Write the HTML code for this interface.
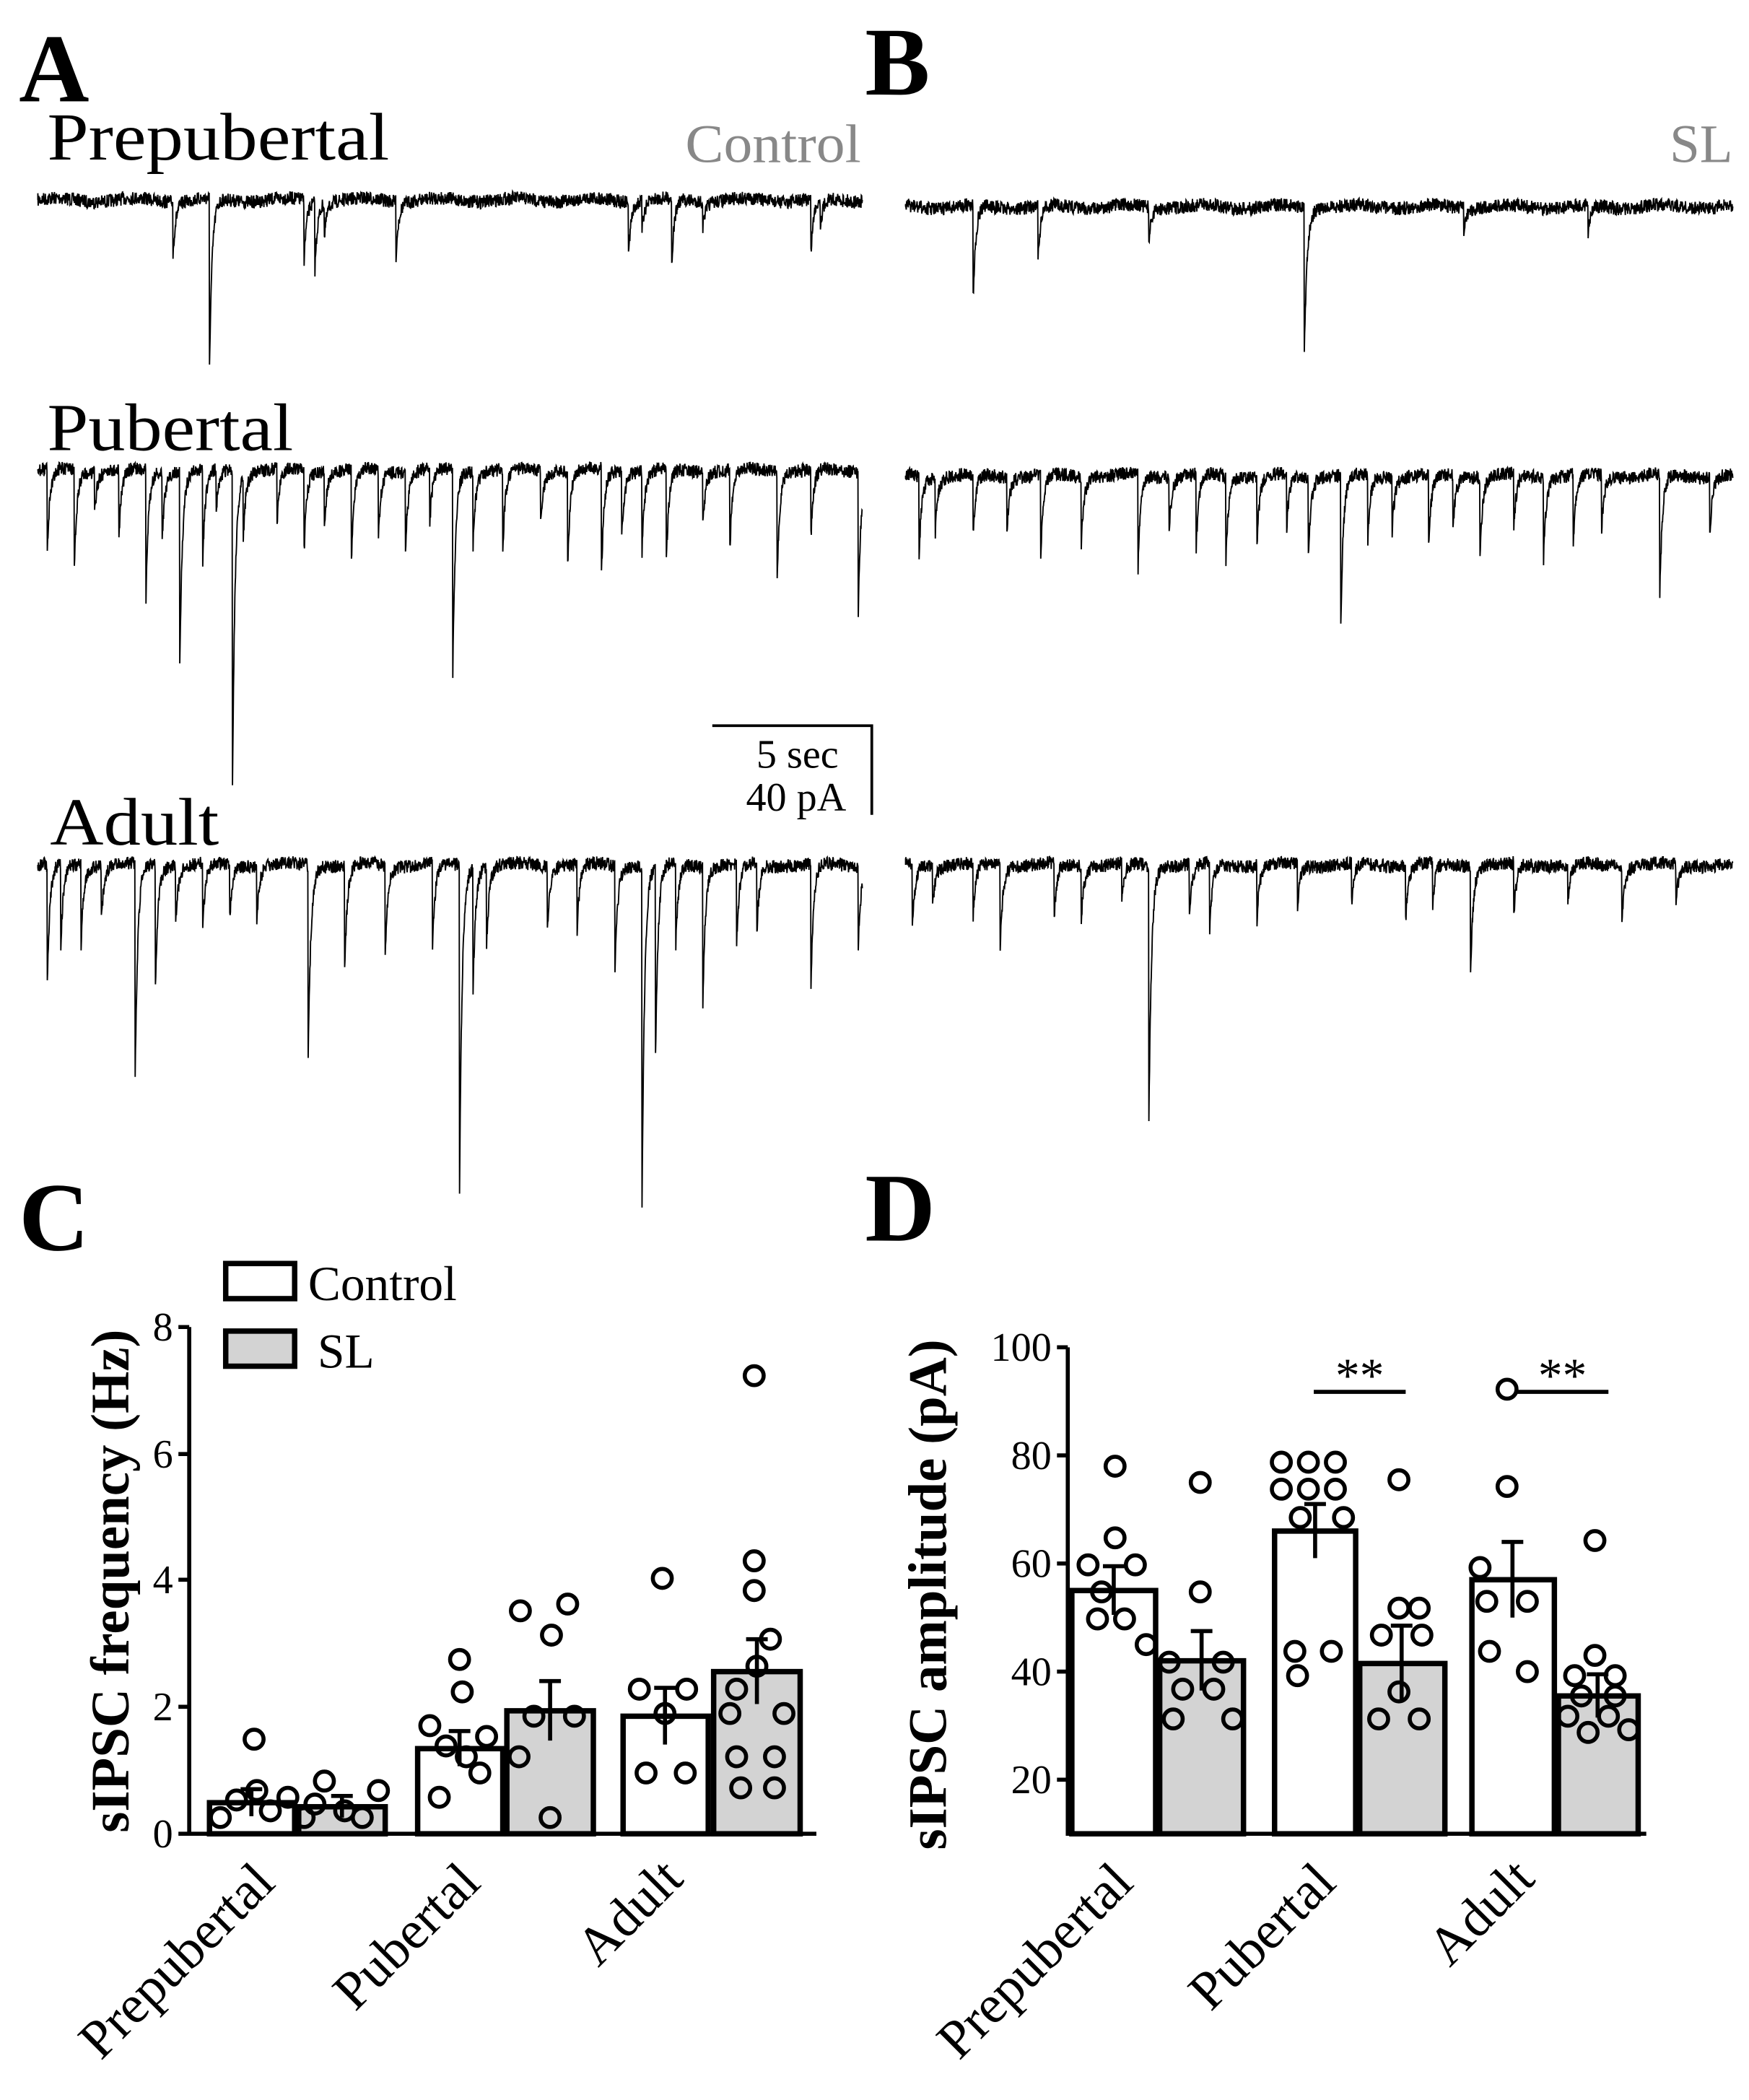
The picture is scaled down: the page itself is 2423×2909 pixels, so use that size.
<!DOCTYPE html>
<html><head><meta charset="utf-8"><style>
html,body{margin:0;padding:0;background:#fff}
svg{display:block}
text{font-family:"Liberation Serif",serif}
</style></head><body>
<svg id="s" width="2423" height="2909" viewBox="0 0 1294 1554" preserveAspectRatio="none" xmlns="http://www.w3.org/2000/svg">
<rect width="1294" height="1554" fill="#fff"/>
<text x="14" y="75" font-size="72" font-weight="bold">A</text>
<text x="640" y="70" font-size="72" font-weight="bold">B</text>
<text x="35" y="118" font-size="50" textLength="253" lengthAdjust="spacingAndGlyphs">Prepubertal</text>
<text x="507" y="120" font-size="40" fill="#888" textLength="130" lengthAdjust="spacingAndGlyphs">Control</text>
<text x="1282" y="120" font-size="40" fill="#888" text-anchor="end">SL</text>
<text x="35" y="333" font-size="50" textLength="182" lengthAdjust="spacingAndGlyphs">Pubertal</text>
<text x="37" y="625" font-size="50" textLength="125" lengthAdjust="spacingAndGlyphs">Adult</text>
<path d="M527 537 H645 V603" fill="none" stroke="#000" stroke-width="2"/>
<text x="590" y="568" font-size="30" text-anchor="middle">5 sec</text>
<text x="589" y="600" font-size="30" text-anchor="middle">40 pA</text>
<g id="traces" fill="none" stroke="#000" stroke-width="1"></g>

<text x="14" y="925" font-size="72" font-weight="bold">C</text>
<text x="640" y="918" font-size="72" font-weight="bold">D</text>

<!-- Panel C -->
<g stroke="#000" stroke-width="3" fill="none">
<path d="M140 982 V1357 H604"/>
<path d="M132 982 H140 M132 1076 H140 M132 1169 H140 M132 1263 H140 M132 1357 H140"/>
</g>
<g font-size="30" text-anchor="end">
<text x="128" y="992">8</text><text x="128" y="1086">6</text><text x="128" y="1179">4</text><text x="128" y="1273">2</text><text x="128" y="1367">0</text>
</g>
<text transform="translate(95,1170) rotate(-90)" font-size="40" font-weight="bold" text-anchor="middle">sIPSC frequency (Hz)</text>
<rect x="167" y="935" width="51" height="26" fill="#fff" stroke="#000" stroke-width="4"/>
<text x="228" y="962" font-size="36">Control</text>
<rect x="167" y="985" width="51" height="26" fill="#d3d3d3" stroke="#000" stroke-width="4"/>
<text x="235" y="1012" font-size="36">SL</text>
<g stroke="#000" stroke-width="4">
<rect x="155" y="1334" width="63" height="23" fill="#fff"/>
<rect x="221" y="1337" width="64" height="20" fill="#d3d3d3"/>
<rect x="309" y="1294" width="63" height="63" fill="#fff"/>
<rect x="375" y="1266" width="64" height="91" fill="#d3d3d3"/>
<rect x="461" y="1270" width="63" height="87" fill="#fff"/>
<rect x="528" y="1237" width="64" height="120" fill="#d3d3d3"/>
</g>
<g stroke="#000" stroke-width="3">
<path d="M186 1324V1344 M178 1324H194"/>
<path d="M253 1329V1345 M245 1329H261"/>
<path d="M340 1281V1307 M332 1281H348"/>
<path d="M407 1244V1288 M399 1244H415"/>
<path d="M492 1249V1291 M484 1249H500"/>
<path d="M560 1213V1261 M552 1213H568"/>
</g>
<g fill="none" stroke="#000" stroke-width="3" id="dotsC"></g>
<g font-size="40">
<text transform="translate(205,1395) rotate(-45)" text-anchor="end">Prepubertal</text>
<text transform="translate(357,1395) rotate(-45)" text-anchor="end">Pubertal</text>
<text transform="translate(507,1392) rotate(-45)" text-anchor="end">Adult</text>
</g>

<!-- Panel D -->
<g stroke="#000" stroke-width="3" fill="none">
<path d="M790 997 V1357 H1218"/>
<path d="M782 997 H790 M782 1077 H790 M782 1157 H790 M782 1237 H790 M782 1317 H790"/>
</g>
<g font-size="30" text-anchor="end">
<text x="778" y="1007">100</text><text x="778" y="1087">80</text><text x="778" y="1167">60</text><text x="778" y="1247">40</text><text x="778" y="1327">20</text>
</g>
<text transform="translate(700,1180) rotate(-90)" font-size="40" font-weight="bold" text-anchor="middle">sIPSC amplitude (pA)</text>
<g stroke="#000" stroke-width="4">
<rect x="793" y="1177" width="62" height="180" fill="#fff"/>
<rect x="858" y="1229" width="62" height="128" fill="#d3d3d3"/>
<rect x="943" y="1133" width="60" height="224" fill="#fff"/>
<rect x="1006" y="1231" width="63" height="126" fill="#d3d3d3"/>
<rect x="1089" y="1169" width="61" height="188" fill="#fff"/>
<rect x="1153" y="1255" width="59" height="102" fill="#d3d3d3"/>
</g>
<g stroke="#000" stroke-width="3">
<path d="M824 1159V1195 M816 1159H832"/>
<path d="M889 1207V1251 M881 1207H897"/>
<path d="M973 1113V1153 M965 1113H981"/>
<path d="M1037 1203V1259 M1029 1203H1045"/>
<path d="M1119 1141V1197 M1111 1141H1127"/>
<path d="M1182 1239V1271 M1174 1239H1190"/>
<path d="M972 1030H1040 M1122 1030H1190"/>
</g>
<text x="1006" y="1030" font-size="36" text-anchor="middle">**</text>
<text x="1156" y="1030" font-size="36" text-anchor="middle">**</text>
<g fill="none" stroke="#000" stroke-width="3" id="dotsD"></g>
<g font-size="40">
<text transform="translate(840,1395) rotate(-45)" text-anchor="end">Prepubertal</text>
<text transform="translate(990,1395) rotate(-45)" text-anchor="end">Pubertal</text>
<text transform="translate(1137,1392) rotate(-45)" text-anchor="end">Adult</text>
</g>
</svg>
<script>
(function(){
var NS="http://www.w3.org/2000/svg";
var seed=7;function r(){seed=(seed*16807)%2147483647;return seed/2147483647;}
function trace(x0,x1,base,ev){
  var d="M"+x0+" "+base;
  for(var x=x0;x<=x1;x+=0.25){
    var y=base+(r()-0.5)*10+Math.sin(x/9)*1.5;
    for(var i=0;i<ev.length;i++){var dx=x-ev[i][0];if(dx>=0&&dx<25){y+=ev[i][1]*Math.exp(-dx/2);}}
    d+=" L"+x.toFixed(2)+" "+y.toFixed(1);
  }
  var p=document.createElementNS(NS,"path");p.setAttribute("d",d);
  document.getElementById("traces").appendChild(p);
}
trace(28,638,148,[[128,40],[155,125],[225,45],[233,50],[240,25],[293,40],[465,40],[475,20],[497,50],[520,20],[600,40],[607,20]]);
trace(670,1282,153,[[720,70],[768,40],[850,25],[965,110],[1083,20],[1175,20]]);
trace(28,638,348,[[35,60],[55,75],[70,30],[88,50],[108,95],[120,50],[133,145],[150,70],[160,30],[172,235],[180,45],[205,40],[225,60],[240,40],[260,70],[280,50],[300,60],[318,40],[335,150],[350,55],[372,60],[400,40],[420,70],[445,80],[460,50],[475,60],[493,70],[520,40],[540,60],[575,80],[600,50],[635,105]]);
trace(670,1282,352,[[680,60],[692,40],[720,45],[745,40],[770,60],[800,50],[842,70],[865,40],[885,55],[907,65],[930,50],[952,40],[968,60],[992,110],[1012,50],[1030,40],[1057,55],[1075,40],[1095,60],[1120,40],[1142,60],[1164,50],[1185,40],[1228,90],[1265,45]]);
trace(28,638,640,[[35,90],[45,60],[60,60],[75,40],[100,160],[115,90],[130,40],[150,50],[170,40],[190,40],[228,145],[255,80],[285,70],[320,65],[340,240],[350,90],[360,60],[405,50],[427,50],[455,80],[475,250],[485,140],[500,60],[520,100],[545,60],[560,50],[600,90],[635,60]]);
trace(670,1282,640,[[675,50],[690,30],[720,40],[740,60],[780,40],[800,40],[830,30],[850,190],[880,40],[895,50],[930,40],[960,30],[1000,30],[1040,40],[1060,30],[1088,80],[1120,40],[1160,30],[1200,40],[1240,30]]);
function dots(id,list){var g=document.getElementById(id);list.forEach(function(p){var c=document.createElementNS(NS,"circle");c.setAttribute("cx",p[0]);c.setAttribute("cy",p[1]);c.setAttribute("r",7);g.appendChild(c);});}
dots("dotsC",[[188,1287],[163,1345],[175,1332],[190,1325],[200,1340],[213,1330],[225,1345],[240,1318],[233,1335],[255,1340],[268,1345],[280,1325],[340,1228],[342,1252],[318,1277],[330,1292],[345,1300],[360,1285],[325,1330],[355,1312],[385,1192],[420,1187],[408,1210],[395,1270],[425,1270],[384,1300],[407,1345],[490,1168],[473,1250],[492,1268],[508,1250],[478,1312],[507,1312],[558,1018],[558,1155],[558,1177],[570,1213],[560,1233],[545,1250],[580,1268],[540,1268],[545,1300],[573,1300],[548,1323],[573,1323]]);
dots("dotsD",[[825,1085],[825,1138],[805,1158],[840,1158],[815,1178],[812,1198],[832,1198],[848,1217],[888,1097],[888,1178],[865,1230],[905,1230],[875,1250],[898,1250],[868,1272],[912,1272],[948,1082],[968,1082],[988,1082],[948,1102],[968,1102],[988,1102],[962,1123],[994,1123],[958,1222],[985,1222],[960,1240],[1035,1190],[1050,1190],[1022,1210],[1052,1210],[1035,1252],[1020,1272],[1050,1272],[1035,1095],[1115,1028],[1115,1100],[1095,1160],[1100,1185],[1130,1185],[1102,1222],[1130,1237],[1180,1140],[1180,1225],[1165,1240],[1195,1240],[1170,1255],[1195,1255],[1160,1270],[1190,1270],[1175,1282],[1205,1280]]);
})();
</script>
</body></html>
